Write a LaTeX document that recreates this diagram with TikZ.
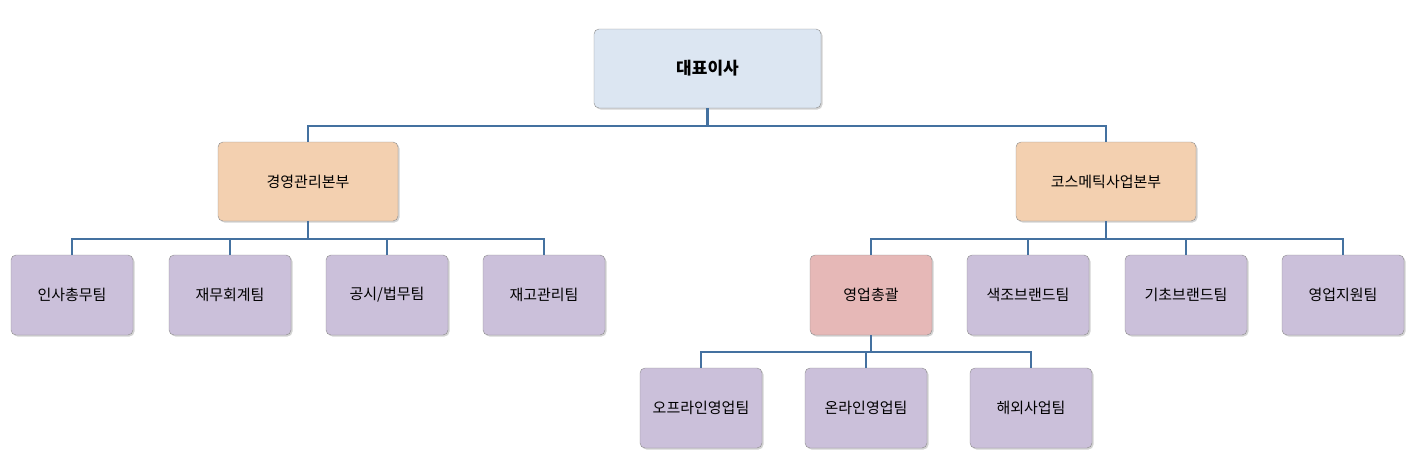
\documentclass[tikz,border=0pt]{standalone}
\usepackage{fontspec}
\setmainfont{Noto Sans CJK KR}
\usetikzlibrary{shadows}
\definecolor{lnk}{HTML}{4471A0}
\definecolor{topf}{HTML}{DCE6F2}
\definecolor{divf}{HTML}{F3D0B0}
\definecolor{teamf}{HTML}{CBC0DA}
\definecolor{salesf}{HTML}{E6B8B7}
\begin{document}
\begin{tikzpicture}[x=1pt,y=-1pt,
 box/.style={draw=black!45,rounded corners=5pt,minimum width=#1,inner sep=0pt,font=\fontsize{15}{18}\selectfont,drop shadow={shadow xshift=1.5pt,shadow yshift=-1.5pt,opacity=0.35}},
 top/.style={box=227pt,minimum height=79pt,fill=topf,font=\fontsize{17}{20}\selectfont\bfseries},
 div/.style={box=180pt,minimum height=79pt,fill=divf},
 team/.style={box=122pt,minimum height=80pt,fill=teamf},
 link/.style={draw=lnk,line width=2.4pt}]
\useasboundingbox (0,0) rectangle (1415,461);
\node[top] (ceo) at (707.5,68.5) {대표이사};
\node[div] (mg) at (308,181.5) {경영관리본부};
\node[div] (cs) at (1106,181.5) {코스메틱사업본부};
\node[team] (t1) at (72,295) {인사총무팀};
\node[team] (t2) at (230,295) {재무회계팀};
\node[team] (t3) at (387,295) {공시/법무팀};
\node[team] (t4) at (544,295) {재고관리팀};
\node[team,fill=salesf] (sl) at (871,295) {영업총괄};
\node[team] (t6) at (1028,295) {색조브랜드팀};
\node[team] (t7) at (1186,295) {기초브랜드팀};
\node[team] (t8) at (1343,295) {영업지원팀};
\node[team] (u1) at (701,408) {오프라인영업팀};
\node[team] (u2) at (866,408) {온라인영업팀};
\node[team] (u3) at (1031,408) {해외사업팀};
\begin{scope}[on background layer/.style={}]
\foreach \c in {mg,cs} \draw[link] (ceo.south) -- ++(0,18) -| (\c.north);
\foreach \c in {t1,t2,t3,t4} \draw[link] (mg.south) -- ++(0,18) -| (\c.north);
\foreach \c in {sl,t6,t7,t8} \draw[link] (cs.south) -- ++(0,18) -| (\c.north);
\foreach \c in {u1,u2,u3} \draw[link] (sl.south) -- ++(0,17) -| (\c.north);
\end{scope}
\end{tikzpicture}
\end{document}
